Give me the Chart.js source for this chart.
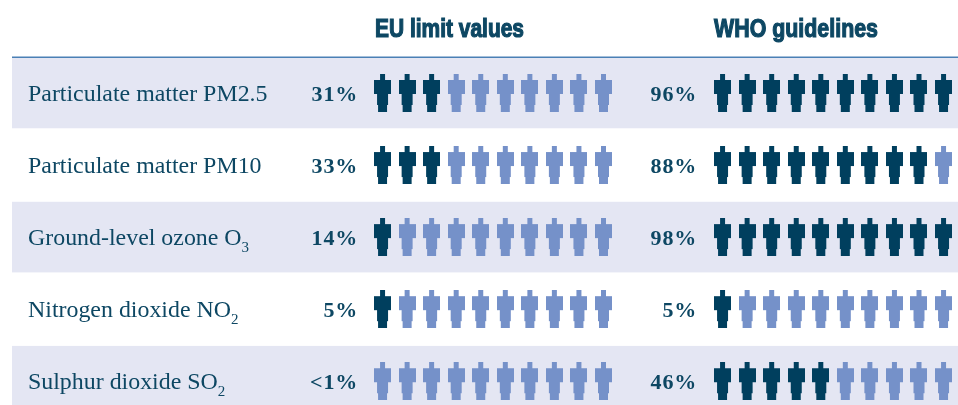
<!DOCTYPE html>
<html>
<head>
<meta charset="utf-8">
<title>Air pollutants</title>
<script src="https://cdn.jsdelivr.net/npm/chart.js@4"></script>
<style>
  html, body { margin: 0; padding: 0; background: #fff; overflow: hidden; }
  canvas { display: block; }
</style>
</head>
<body>
<canvas id="myChart" width="958" height="405"></canvas>
<script>
const pollutants = ['Particulate matter PM2.5', 'Particulate matter PM10', 'Ground-level ozone O', 'Nitrogen dioxide NO', 'Sulphur dioxide SO'];
const subscripts = ['', '', '3', '2', '2'];
const euLabels = ['31%', '33%', '14%', '5%', '<1%'];
const whoLabels = ['96%', '88%', '98%', '5%', '46%'];
// dark figures out of ten in each row
const euFilled = [3, 3, 1, 1, 0];
const whoFilled = [10, 9, 10, 1, 5];

const DARK = '#003f5e';
const LIGHT = '#7591c9';
const BAND = '#e4e6f3';
const TEXT = '#0d4763';
const SLOTS = 10;
const EU_START = 15.58;
const WHO_START = 29.43;

// Person icon used as point style
function makePerson(color) {
  const c = document.createElement('canvas');
  c.width = 17;
  c.height = 38;
  const g = c.getContext('2d');
  g.fillStyle = color;
  g.fillRect(6, 0, 5, 6);
  g.fillRect(0, 6, 17, 14);
  g.fillRect(3, 20, 11, 11);
  g.fillRect(4, 31, 9, 7);
  return c;
}
const darkPerson = makePerson(DARK);
const lightPerson = makePerson(LIGHT);

function buildPoints(filled, start) {
  return filled.flatMap((count, row) =>
    Array.from({ length: SLOTS }, (_, i) => ({ x: start + i, y: row, dark: i < count }))
  );
}

const backdrop = {
  id: 'backdrop',
  beforeDatasetsDraw(chart) {
    const { ctx, scales: { y }, chartArea } = chart;
    ctx.save();
    ctx.fillStyle = BAND;
    [0, 2, 4].forEach(row => {
      const top = y.getPixelForValue(row - 0.49);
      const bottom = y.getPixelForValue(row + 0.49);
      ctx.fillRect(12, top, chartArea.right - 12, bottom - top);
    });
    ctx.fillStyle = '#4a80b5';
    ctx.fillRect(12, 56.5, chartArea.right - 12, 1.5);
    ctx.restore();
  }
};

const textLayer = {
  id: 'textLayer',
  afterDatasetsDraw(chart) {
    const { ctx, scales: { y } } = chart;
    ctx.save();
    ctx.textBaseline = 'alphabetic';
    ctx.fillStyle = TEXT;

    pollutants.forEach((name, row) => {
      const base = y.getPixelForValue(row) + 8;
      ctx.textAlign = 'left';
      ctx.font = '23.9px "Liberation Serif"';
      ctx.letterSpacing = '0px';
      ctx.fillText(name, 28, base);
      if (subscripts[row]) {
        const w = ctx.measureText(name).width;
        ctx.font = '15px "Liberation Serif"';
        ctx.fillText(subscripts[row], 28 + w, base + 7);
      }
      ctx.textAlign = 'right';
      ctx.font = 'bold 22px "Liberation Serif"';
      ctx.letterSpacing = '0.8px';
      ctx.fillText(euLabels[row], 358, base);
      ctx.fillText(whoLabels[row], 697, base);
    });

    ctx.textAlign = 'left';
    ctx.font = 'bold 26px "Liberation Sans"';
    ctx.letterSpacing = '0px';
    ctx.strokeStyle = TEXT;
    ctx.lineWidth = 1.2;
    ctx.strokeText('EU limit values', 375, 37, 149);
    ctx.fillText('EU limit values', 375, 37, 149);
    ctx.strokeText('WHO guidelines', 714, 37, 164);
    ctx.fillText('WHO guidelines', 714, 37, 164);
    ctx.restore();
  }
};

new Chart(document.getElementById('myChart'), {
  type: 'scatter',
  data: {
    datasets: [
      { label: 'EU limit values', data: buildPoints(euFilled, EU_START) },
      { label: 'WHO guidelines', data: buildPoints(whoFilled, WHO_START) }
    ]
  },
  options: {
    responsive: false,
    animation: false,
    devicePixelRatio: 1,
    layout: { padding: 0, autoPadding: false },
    elements: {
      point: {
        radius: 10,
        pointStyle: ctx => (ctx.raw && ctx.raw.dark ? darkPerson : lightPerson)
      }
    },
    plugins: {
      legend: { display: false },
      tooltip: { enabled: false }
    },
    scales: {
      x: { type: 'linear', display: false, min: 0, max: 39.02 },
      y: { type: 'linear', display: false, reverse: true, min: -1.29, max: 4.33 }
    }
  },
  plugins: [backdrop, textLayer]
});
</script>
</body>
</html>
